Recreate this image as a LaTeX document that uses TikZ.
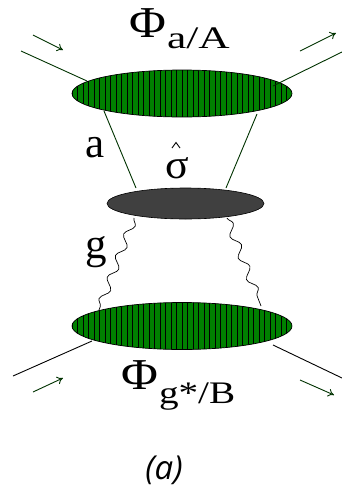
\documentclass[tikz,border=0pt]{standalone}
\usepackage{fontspec}
\setmainfont{Liberation Serif}
\newfontfamily\capfont{Open Sans}
\usetikzlibrary{decorations.pathmorphing,arrows.meta}
\definecolor{blobgreen}{RGB}{0,128,0}
\definecolor{darkline}{RGB}{0,50,0}
\definecolor{coregray}{RGB}{64,64,64}
\tikzset{
  lbl/.style={inner sep=0pt, anchor=base west},
  leg/.style={draw=darkline, line width=0.9pt},
  legb/.style={draw=black, line width=0.9pt},
  flow/.style={draw=darkline, line width=0.9pt, -{To[length=6pt,width=8pt]}},
  gluon/.style={draw=black, line width=0.7pt, decorate, decoration={snake, segment length=23pt, amplitude=4pt}},
}
\newcommand{\bigphi}{\scalebox{1.2}[1.05]{\fontsize{42}{42}\selectfont Φ}}
\begin{document}
\begin{tikzpicture}[x=1pt,y=-1pt]
\useasboundingbox (0,0) rectangle (342,491);

% top blob
\begin{scope}
  \clip (182,93.5) ellipse [x radius=110, y radius=23.5];
  \fill[blobgreen] (72,70) rectangle (292,117);
  \foreach \i in {0,...,40} {\draw[black, line width=0.6pt] (72+\i*5.5,70) -- (72+\i*5.5,117);}
\end{scope}
\draw[black, line width=0.7pt] (182,93.5) ellipse [x radius=110, y radius=23.5];
\coordinate (topblob) at (182,93.5);

% bottom blob
\begin{scope}
  \clip (182,326) ellipse [x radius=110, y radius=23.5];
  \fill[blobgreen] (72,302) rectangle (292,350);
  \foreach \i in {0,...,40} {\draw[black, line width=0.6pt] (72+\i*5.5,302) -- (72+\i*5.5,350);}
\end{scope}
\draw[black, line width=0.7pt] (182,326) ellipse [x radius=110, y radius=23.5];
\coordinate (botblob) at (182,326);

% core
\fill[coregray, draw=black, line width=0.6pt] (185.5,203.5) ellipse [x radius=78.5, y radius=15.5];
\coordinate (core) at (185.5,203.5);

% attachment points
\coordinate (inA) at (21,51);
\coordinate (tA1) at (87,81);
\coordinate (tA2) at (273,86);
\coordinate (outA) at (342,52);
\coordinate (tB1) at (104,111);
\coordinate (tB2) at (257,114);
\coordinate (c1) at (136,188);
\coordinate (c2) at (226,188);
\coordinate (c3) at (134,218);
\coordinate (c4) at (227,218);
\coordinate (b1) at (99,310);
\coordinate (b2) at (261,306);
\coordinate (inB) at (13,376);
\coordinate (bB1) at (92,341);
\coordinate (bB2) at (273,345);
\coordinate (outB) at (342,378);

\draw[leg] (inA) -- (tA1);
\draw[leg] (tA2) -- (outA);
\draw[leg] (tB1) -- (c1);
\draw[leg] (tB2) -- (c2);
\draw[gluon] (c3) -- (b1);
\draw[gluon] (c4) -- (b2);
\draw[legb] (inB) -- (bB1);
\draw[legb] (bB2) -- (outB);

% flow arrows
\coordinate (f1s) at (33,35); \coordinate (f1e) at (63,50);
\coordinate (f2s) at (300,51); \coordinate (f2e) at (336,33);
\coordinate (f3s) at (33,392); \coordinate (f3e) at (63,378);
\coordinate (f4s) at (300,380); \coordinate (f4e) at (334,395);
\draw[flow] (f1s) -- (f1e);
\draw[flow] (f2s) -- (f2e);
\draw[flow] (f3s) -- (f3e);
\draw[flow] (f4s) -- (f4e);

% labels
\node[lbl] (phiA) at (129,37) {\bigphi\hspace{1pt}\raisebox{-11pt}{\scalebox{1.55}[1.12]{\fontsize{28}{28}\selectfont a/A}}};
\node[lbl] (la) at (85,157) {\fontsize{43}{43}\selectfont a};
\node[lbl] (lg) at (85,258) {\fontsize{43}{43}\selectfont g};
\node[inner sep=0pt, anchor=base] (sig) at (177,178) {\scalebox{1.15}[1.08]{\fontsize{38}{38}\selectfont σ}};
\draw[black, line width=0.9pt] (172,148) -- (176,142.5) -- (180,148);
\node[lbl] (phiB) at (121,389) {\bigphi\hspace{1pt}\raisebox{-14pt}{\scalebox{1.4}[1.12]{\fontsize{28}{28}\selectfont g*/B}}};
\node[inner sep=0pt, anchor=base] (cap) at (164,479) {\capfont\itshape\fontsize{33}{33}\selectfont (a)};
\end{tikzpicture}
\end{document}
